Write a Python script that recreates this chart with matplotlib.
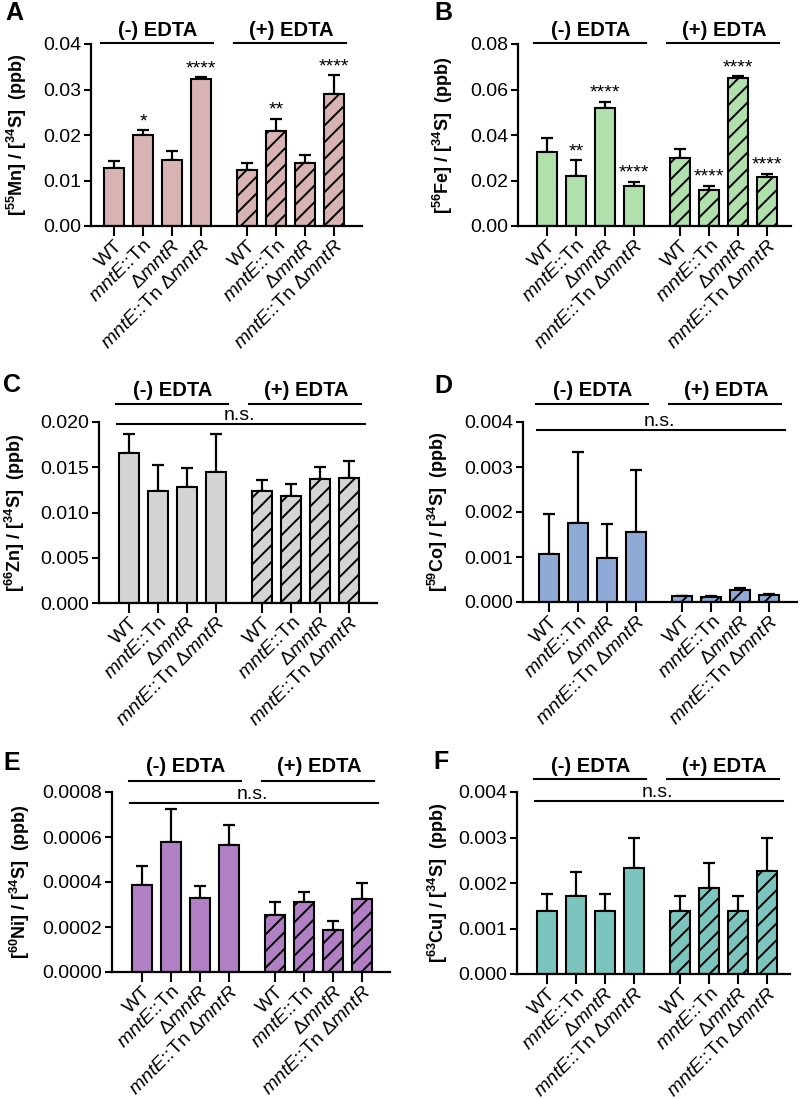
import numpy as np
import matplotlib
matplotlib.use("Agg")
import matplotlib.pyplot as plt
import matplotlib.transforms as mtransforms

plt.rcParams['font.family'] = ['Liberation Sans', 'DejaVu Sans']
plt.rcParams['mathtext.fontset'] = 'custom'
plt.rcParams['mathtext.rm'] = 'Liberation Sans'
plt.rcParams['mathtext.it'] = 'Liberation Sans:italic'
plt.rcParams['mathtext.bf'] = 'Liberation Sans:bold'
plt.rcParams['hatch.linewidth'] = 1.4

strains = ["WT", r"$\mathit{mntE}$::Tn", r"Δ$\mathit{mntR}$", r"$\mathit{mntE}$::Tn Δ$\mathit{mntR}$"]
groups = ["(-) EDTA", "(+) EDTA"]

# values: 4 strains without EDTA, then 4 with EDTA ; *_top = top of error bar
mn_mean = [0.0127, 0.0199, 0.0144, 0.0322, 0.0124, 0.0208, 0.0138, 0.0290]
mn_top = [0.0143, 0.0211, 0.0165, 0.0327, 0.0139, 0.0236, 0.0156, 0.0331]
mn_sig = ["", "*", "", "****", "", "**", "", "****"]

fe_mean = [0.0325, 0.0220, 0.0519, 0.0176, 0.0297, 0.0157, 0.0652, 0.0217]
fe_top = [0.0388, 0.0290, 0.0547, 0.0195, 0.0338, 0.0177, 0.0658, 0.0229]
fe_sig = ["", "**", "****", "****", "", "****", "****", "****"]

zn_mean = [0.0166, 0.0124, 0.0128, 0.0145, 0.0124, 0.0118, 0.0137, 0.0138]
zn_top = [0.0187, 0.0152, 0.0149, 0.0187, 0.0136, 0.0132, 0.0150, 0.0157]

co_mean = [0.00107, 0.00176, 0.00098, 0.00156, 0.000126, 0.000119, 0.000274, 0.000163]
co_top = [0.00196, 0.00333, 0.00174, 0.00293, 0.000133, 0.000126, 0.000304, 0.000178]

ni_mean = [0.000387, 0.000579, 0.000330, 0.000563, 0.000255, 0.000310, 0.000185, 0.000324]
ni_top = [0.000473, 0.000724, 0.000384, 0.000655, 0.000310, 0.000356, 0.000227, 0.000396]

cu_mean = [0.00139, 0.00171, 0.00139, 0.00234, 0.00139, 0.00189, 0.00139, 0.00227]
cu_top = [0.00176, 0.00225, 0.00176, 0.00300, 0.00172, 0.00245, 0.00172, 0.00300]

W, H = 800, 1099
fig = plt.figure(figsize=(W / 100, H / 100), dpi=100)

xpos = np.array([0, 1, 2, 3, 4.6, 5.6, 6.6, 7.6])
unit = 29.0

panels = [
    dict(letter="A", rect=(91, 44, 362, 226), first=114, mean=mn_mean, top=mn_top, sig=mn_sig,
         ymax=0.04, step=0.01, fmt="{:.2f}", color="#d8b3b3", iso="55", el="Mn",
         ylab_x=17, letter_xy=(14, 13), head=(43, 31), ns=None),
    dict(letter="B", rect=(518, 44, 791, 226), first=547, mean=fe_mean, top=fe_top, sig=fe_sig,
         ymax=0.08, step=0.02, fmt="{:.2f}", color="#b0e0ab", iso="56", el="Fe",
         ylab_x=443, letter_xy=(443, 13), head=(43, 31), ns=None),
    dict(letter="C", rect=(99, 422, 377, 603), first=129, mean=zn_mean, top=zn_top, sig=None,
         ymax=0.020, step=0.005, fmt="{:.3f}", color="#d4d4d4", iso="66", el="Zn",
         ylab_x=15, letter_xy=(12, 385), head=(404, 391), ns=0.0198),
    dict(letter="D", rect=(523, 422, 797, 602), first=549, mean=co_mean, top=co_top, sig=None,
         ymax=0.004, step=0.001, fmt="{:.3f}", color="#8eaad5", iso="59", el="Co",
         ylab_x=438, letter_xy=(443, 386), head=(404, 391), ns=0.00383),
    dict(letter="E", rect=(112, 792, 390, 972), first=142, mean=ni_mean, top=ni_top, sig=None,
         ymax=0.0008, step=0.0002, fmt="{:.4f}", color="#b07fc4", iso="60", el="Ni",
         ylab_x=20, letter_xy=(12, 763), head=(781, 767), ns=0.000751),
    dict(letter="F", rect=(517, 792, 790, 974), first=547, mean=cu_mean, top=cu_top, sig=None,
         ymax=0.004, step=0.001, fmt="{:.3f}", color="#7cc5be", iso="63", el="Cu",
         ylab_x=438, letter_xy=(441, 762), head=(779, 766), ns=0.003795),
]

for p in panels:
    left, top, right, bottom = p["rect"]
    ax = fig.add_axes([left / W, 1 - bottom / H, (right - left) / W, (bottom - top) / H])
    mean = np.array(p["mean"])
    err = np.array(p["top"]) - mean
    hatches = [None] * 4 + ["//"] * 4
    for x, m, h in zip(xpos, mean, hatches):
        ax.bar(x, m, width=0.69, color=p["color"], edgecolor="black", linewidth=1.5,
               hatch=h, zorder=2)
    ax.errorbar(xpos, mean, yerr=[np.zeros(8), err], fmt="none", ecolor="black",
                elinewidth=1.6, capsize=4.5, capthick=1.6, zorder=1)

    ax.set_xlim((left - p["first"]) / unit, (right - p["first"]) / unit)
    ax.set_ylim(0, p["ymax"])
    yt = np.arange(0, p["ymax"] + p["step"] / 2, p["step"])
    ax.set_yticks(yt)
    ax.set_yticklabels([p["fmt"].format(v) for v in yt], fontsize=14)
    ax.set_xticks(xpos)
    ax.set_xticklabels(strains * 2, rotation=45, ha="right", rotation_mode="anchor",
                       fontsize=14)
    ax.tick_params(axis="both", width=1.5, length=5, direction="out", pad=2)
    ax.tick_params(axis="x", length=7, pad=1)
    for s in ["top", "right"]:
        ax.spines[s].set_visible(False)
    for s in ["left", "bottom"]:
        ax.spines[s].set_linewidth(1.6)

    # significance stars
    if p["sig"]:
        for x, t, s in zip(xpos, p["top"], p["sig"]):
            if s:
                ax.annotate(s, (x, t), xytext=(0, 0), textcoords="offset points",
                            ha="center", va="bottom", fontsize=14)

    # EDTA group headers
    trans = mtransforms.blended_transform_factory(ax.transData, ax.transAxes)
    hline = (bottom - p["head"][0]) / (bottom - top)
    htext = (bottom - p["head"][1]) / (bottom - top)
    for g, (a, b) in zip(groups, [(0, 3), (4, 7)]):
        ax.plot([xpos[a] - 0.45, xpos[b] + 0.4], [hline, hline], color="black", lw=1.5,
                transform=trans, clip_on=False)
        ax.text((xpos[a] + xpos[b]) / 2, htext, g, transform=trans, ha="center",
                va="center", fontsize=14.5, fontweight="bold")

    if p["ns"] is not None:
        ax.plot([-0.4, 8.15], [p["ns"], p["ns"]], color="black", lw=1.5, clip_on=False)
        ax.text(3.8, p["ns"], "n.s.", ha="center", va="bottom", fontsize=14)

    ylab = r"[$^{\mathbf{%s}}$%s] / [$^{\mathbf{34}}$S]  (ppb)" % (p["iso"], p["el"])
    fig.text(p["ylab_x"] / W, 1 - (top + bottom) / 2 / H, ylab, rotation=90, ha="center",
             va="center", fontsize=13, fontweight="bold")
    fig.text(p["letter_xy"][0] / W, 1 - p["letter_xy"][1] / H, p["letter"], ha="center",
             va="center", fontsize=18, fontweight="bold")

fig.savefig("out.png", dpi=100)
